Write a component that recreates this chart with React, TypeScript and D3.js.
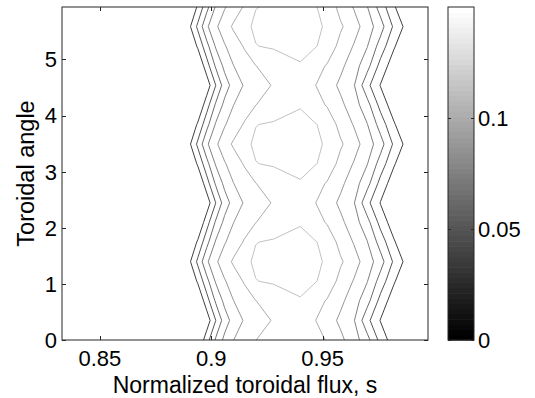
import { useEffect, useRef } from "react";
import * as d3 from "d3";

// Grid of the field: normalized toroidal flux (columns) and toroidal angle (rows)
const sGrid = [0.833, 0.886, 0.89, 0.894, 0.898, 0.902, 0.906, 0.91, 0.915, 0.92, 0.928, 0.94, 0.946, 0.952, 0.958, 0.964, 0.97, 0.976, 0.982, 0.988, 0.9973];
const phiGrid = [0, 0.3491, 0.6981, 1.0472, 1.3963, 1.7453, 2.0944, 2.4435, 2.7925, 3.1416, 3.4907, 3.8397, 4.1888, 4.5379, 4.8869, 5.236, 5.5851, 5.9341];

// field values, one row per toroidal angle
const field = [
  [0, 0, 0, 0, 0.0315, 0.0628, 0.0855, 0.0998, 0.11, 0.1198, 0.1274, 0.1385, 0.1287, 0.1184, 0.1046, 0.0893, 0.0672, 0.0331, 0.0083, 0, 0],
  [0, 0, 0, 0, 0.0083, 0.0398, 0.07, 0.0879, 0.1022, 0.1106, 0.1217, 0.13, 0.1218, 0.1096, 0.096, 0.0817, 0.0459, 0.0189, 0, 0, 0],
  [0, 0, 0, 0, 0.0315, 0.0628, 0.0855, 0.0998, 0.11, 0.1198, 0.1274, 0.1385, 0.1287, 0.1184, 0.1046, 0.0893, 0.0672, 0.0331, 0.0083, 0, 0],
  [0, 0, 0, 0.023, 0.0536, 0.082, 0.0984, 0.1091, 0.1223, 0.1395, 0.1423, 0.146, 0.142, 0.134, 0.1133, 0.0988, 0.0809, 0.0513, 0.0224, 0, 0],
  [0, 0, 0.0148, 0.0446, 0.0767, 0.0967, 0.111, 0.123, 0.136, 0.143, 0.1442, 0.149, 0.1441, 0.1378, 0.123, 0.1081, 0.0907, 0.0682, 0.0367, 0.0122, 0],
  [0, 0, 0, 0.023, 0.0536, 0.082, 0.0984, 0.1091, 0.1223, 0.1395, 0.1423, 0.146, 0.142, 0.134, 0.1133, 0.0988, 0.0809, 0.0513, 0.0224, 0, 0],
  [0, 0, 0, 0, 0.0315, 0.0628, 0.0855, 0.0998, 0.11, 0.1198, 0.1274, 0.1385, 0.1287, 0.1184, 0.1046, 0.0893, 0.0672, 0.0331, 0.0083, 0, 0],
  [0, 0, 0, 0, 0.0083, 0.0398, 0.07, 0.0879, 0.1022, 0.1106, 0.1217, 0.13, 0.1218, 0.1096, 0.096, 0.0817, 0.0459, 0.0189, 0, 0, 0],
  [0, 0, 0, 0, 0.0315, 0.0628, 0.0855, 0.0998, 0.11, 0.1198, 0.1274, 0.1385, 0.1287, 0.1184, 0.1046, 0.0893, 0.0672, 0.0331, 0.0083, 0, 0],
  [0, 0, 0, 0.023, 0.0536, 0.082, 0.0984, 0.1091, 0.1223, 0.1395, 0.1423, 0.146, 0.142, 0.134, 0.1133, 0.0988, 0.0809, 0.0513, 0.0224, 0, 0],
  [0, 0, 0.0148, 0.0446, 0.0767, 0.0967, 0.111, 0.123, 0.136, 0.143, 0.1442, 0.149, 0.1441, 0.1378, 0.123, 0.1081, 0.0907, 0.0682, 0.0367, 0.0122, 0],
  [0, 0, 0, 0.023, 0.0536, 0.082, 0.0984, 0.1091, 0.1223, 0.1395, 0.1423, 0.146, 0.142, 0.134, 0.1133, 0.0988, 0.0809, 0.0513, 0.0224, 0, 0],
  [0, 0, 0, 0, 0.0315, 0.0628, 0.0855, 0.0998, 0.11, 0.1198, 0.1274, 0.1385, 0.1287, 0.1184, 0.1046, 0.0893, 0.0672, 0.0331, 0.0083, 0, 0],
  [0, 0, 0, 0, 0.0083, 0.0398, 0.07, 0.0879, 0.1022, 0.1106, 0.1217, 0.13, 0.1218, 0.1096, 0.096, 0.0817, 0.0459, 0.0189, 0, 0, 0],
  [0, 0, 0, 0, 0.0315, 0.0628, 0.0855, 0.0998, 0.11, 0.1198, 0.1274, 0.1385, 0.1287, 0.1184, 0.1046, 0.0893, 0.0672, 0.0331, 0.0083, 0, 0],
  [0, 0, 0, 0.023, 0.0536, 0.082, 0.0984, 0.1091, 0.1223, 0.1395, 0.1423, 0.146, 0.142, 0.134, 0.1133, 0.0988, 0.0809, 0.0513, 0.0224, 0, 0],
  [0, 0, 0.0148, 0.0446, 0.0767, 0.0967, 0.111, 0.123, 0.136, 0.143, 0.1442, 0.149, 0.1441, 0.1378, 0.123, 0.1081, 0.0907, 0.0682, 0.0367, 0.0122, 0],
  [0, 0, 0, 0.023, 0.0536, 0.082, 0.0984, 0.1091, 0.1223, 0.1395, 0.1423, 0.146, 0.142, 0.134, 0.1133, 0.0988, 0.0809, 0.0513, 0.0224, 0, 0],
];

const levels = [0.02, 0.04, 0.06, 0.08, 0.1, 0.12, 0.14];
const xTicks = [0.85, 0.9, 0.95];
const yTicks = [0, 1, 2, 3, 4, 5];
const cbTicks = [0, 0.05, 0.1];
const cbRange = [0, 0.15];

const W = 535;
const H = 398;
const FONT = "'Liberation Sans', Arial, Helvetica, sans-serif";

export default function App() {
  const svgRef = useRef<SVGSVGElement>(null);

  useEffect(() => {
    if (!svgRef.current) return;
    const svg = d3.select(svgRef.current);
    svg.selectAll("*").remove();

    const m = { left: 62, top: 7, right: 428, bottom: 340 };
    const x = d3.scaleLinear().domain([sGrid[0], sGrid[sGrid.length - 1]]).range([m.left, m.right]);
    const y = d3.scaleLinear().domain([phiGrid[0], phiGrid[phiGrid.length - 1]]).range([m.bottom, m.top]);

    // grid index -> data coords (piecewise, grid is not uniform in s)
    const ix = d3.scaleLinear().domain(sGrid.map((_, i) => i)).range(sGrid);
    const iy = d3.scaleLinear().domain(phiGrid.map((_, i) => i)).range(phiGrid);

    const nx = sGrid.length;
    const ny = phiGrid.length;
    const flat = field.flat();
    const contours = d3.contours().size([nx, ny]).thresholds(levels)(flat);

    const lineColor = d3.scaleLinear<string>().domain([levels[0], levels[levels.length - 1]]).range(["#2a2a2a", "#bababa"]);

    const defs = svg.append("defs");
    defs.append("clipPath").attr("id", "plot-clip")
      .append("rect").attr("x", m.left).attr("y", m.top)
      .attr("width", m.right - m.left).attr("height", m.bottom - m.top);

    svg.append("rect").attr("x", m.left).attr("y", m.top)
      .attr("width", m.right - m.left).attr("height", m.bottom - m.top).attr("fill", "#fff");

    const line = d3.line<number[]>()
      .x(p => x(ix(p[0] - 0.5)))
      .y(p => y(iy(p[1] - 0.5)));

    const g = svg.append("g").attr("clip-path", "url(#plot-clip)");
    contours.forEach(c => {
      c.coordinates.forEach(poly => {
        poly.forEach(ring => {
          g.append("path")
            .attr("d", line(ring as number[][]) + "Z")
            .attr("fill", "none")
            .attr("stroke", lineColor(c.value))
            .attr("stroke-width", 0.9);
        });
      });
    });

    // Axes box + inward ticks (MATLAB style)
    const axisColor = "#262626";
    const tk = 4;
    svg.append("rect").attr("x", m.left).attr("y", m.top)
      .attr("width", m.right - m.left).attr("height", m.bottom - m.top)
      .attr("fill", "none").attr("stroke", axisColor).attr("stroke-width", 1);

    xTicks.forEach(t => {
      const xp = Math.round(x(t)) + 0.5;
      svg.append("line").attr("x1", xp).attr("x2", xp).attr("y1", m.bottom).attr("y2", m.bottom - tk).attr("stroke", axisColor);
      svg.append("line").attr("x1", xp).attr("x2", xp).attr("y1", m.top).attr("y2", m.top + tk).attr("stroke", axisColor);
      svg.append("text").attr("x", x(t)).attr("y", 366)
        .attr("text-anchor", "middle").attr("font-family", FONT).attr("font-size", 22).attr("fill", "#000")
        .text(String(t));
    });

    yTicks.forEach(t => {
      const yp = Math.round(y(t)) + 0.5;
      svg.append("line").attr("x1", m.left).attr("x2", m.left + tk).attr("y1", yp).attr("y2", yp).attr("stroke", axisColor);
      svg.append("line").attr("x1", m.right).attr("x2", m.right - tk).attr("y1", yp).attr("y2", yp).attr("stroke", axisColor);
      svg.append("text").attr("x", 57).attr("y", y(t)).attr("dy", "0.36em")
        .attr("text-anchor", "end").attr("font-family", FONT).attr("font-size", 22).attr("fill", "#000")
        .text(String(t));
    });

    svg.append("text").attr("x", (m.left + m.right) / 2).attr("y", 393)
      .attr("text-anchor", "middle").attr("font-family", FONT).attr("font-size", 23).attr("fill", "#000")
      .text("Normalized toroidal flux, s");

    svg.append("text").attr("transform", `translate(34,${(m.top + m.bottom) / 2}) rotate(-90)`)
      .attr("text-anchor", "middle").attr("font-family", FONT).attr("font-size", 23.5).attr("fill", "#000")
      .text("Toroidal angle");

    // Colorbar (64-step gray colormap)
    const cb = { left: 448, right: 474 };
    const cy = d3.scaleLinear().domain(cbRange).range([m.bottom, m.top]);
    const nSteps = 64;
    const step = (cbRange[1] - cbRange[0]) / nSteps;
    d3.range(nSteps).forEach(k => {
      const gv = Math.round((k / (nSteps - 1)) * 255);
      const y0 = cy(cbRange[0] + k * step);
      const y1 = cy(cbRange[0] + (k + 1) * step);
      svg.append("rect").attr("x", cb.left).attr("y", y1)
        .attr("width", cb.right - cb.left).attr("height", y0 - y1 + 0.6)
        .attr("fill", d3.rgb(gv, gv, gv).toString());
    });
    svg.append("rect").attr("x", cb.left).attr("y", m.top)
      .attr("width", cb.right - cb.left).attr("height", m.bottom - m.top)
      .attr("fill", "none").attr("stroke", axisColor).attr("stroke-width", 1);

    cbTicks.forEach(t => {
      const yp = Math.round(cy(t)) + 0.5;
      svg.append("line").attr("x1", cb.left).attr("x2", cb.left + 3).attr("y1", yp).attr("y2", yp).attr("stroke", axisColor);
      svg.append("line").attr("x1", cb.right).attr("x2", cb.right - 3).attr("y1", yp).attr("y2", yp).attr("stroke", axisColor);
      svg.append("text").attr("x", 478).attr("y", cy(t)).attr("dy", "0.36em")
        .attr("text-anchor", "start").attr("font-family", FONT).attr("font-size", 22).attr("fill", "#000")
        .text(String(t));
    });
  }, []);

  return (
    <svg ref={svgRef} width={W} height={H}
      style={{ position: "absolute", left: 0, top: 0, background: "#fff" }} />
  );
}
